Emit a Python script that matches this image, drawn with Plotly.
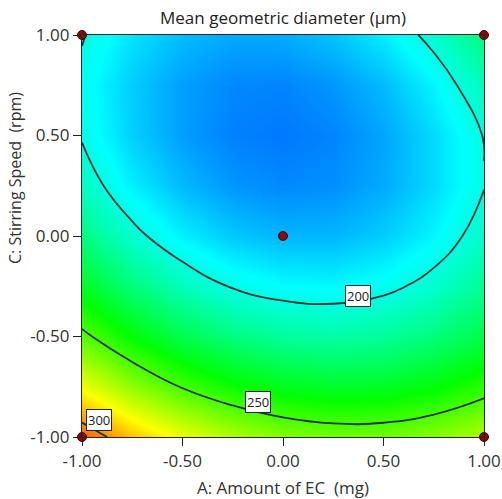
import plotly.graph_objects as go

# Factor levels (coded)
a_levels = [-1.0, -0.75, -0.5, -0.25, 0.0, 0.25, 0.5, 0.75, 1.0]
c_levels = [-1.0, -0.75, -0.5, -0.25, 0.0, 0.25, 0.5, 0.75, 1.0]

# Mean geometric diameter (µm) read from the surface, rows = C, columns = A
diam_c_m100 = [308.6, 291.3, 277.5, 267.2, 260.3, 256.9, 257.0, 260.6, 267.6]
diam_c_m075 = [278.5, 262.1, 249.2, 239.8, 233.8, 231.3, 232.3, 236.8, 244.7]
diam_c_m050 = [253.1, 237.6, 225.6, 217.1, 212.1, 210.5, 212.4, 217.8, 226.6]
diam_c_m025 = [232.5, 217.9, 206.8, 199.2, 195.1, 194.4, 197.2, 203.5, 213.2]
diam_c_000 = [216.6, 203.0, 192.8, 186.0, 182.8, 183.0, 186.7, 193.9, 204.6]
diam_c_p025 = [205.5, 192.7, 183.5, 177.6, 175.3, 176.4, 181.1, 189.1, 199.6]
diam_c_p050 = [199.1, 187.3, 178.9, 174.0, 172.6, 174.6, 180.1, 189.1, 200.4]
diam_c_p075 = [197.5, 186.6, 179.1, 175.1, 174.6, 177.5, 183.9, 193.8, 207.2]
diam_c_p100 = [200.7, 190.6, 184.0, 180.9, 181.3, 185.2, 192.5, 203.3, 217.5]

contour_levels = [200, 250, 300]

# Design points
design_a = [-1, 1, -1, 1, 0]
design_c = [-1, -1, 1, 1, 0]

tick_vals = [-1.0, -0.5, 0.0, 0.5, 1.0]
tick_text = ["-1.00", "-0.50", "0.00", "0.50", "1.00"]

z = [diam_c_m100, diam_c_m075, diam_c_m050, diam_c_m025, diam_c_000,
     diam_c_p025, diam_c_p050, diam_c_p075, diam_c_p100]

colorscale = [
    [0.0, "rgb(0,0,255)"],
    [0.25, "rgb(0,255,255)"],
    [0.5, "rgb(0,255,0)"],
    [0.75, "rgb(255,255,0)"],
    [1.0, "rgb(255,0,0)"],
]

FONT = "Open Sans, Noto Sans, DejaVu Sans, sans-serif"

fig = go.Figure()
fig.add_trace(go.Heatmap(
    x=a_levels, y=c_levels, z=z, zsmooth="best",
    colorscale=colorscale, zmin=152.3, zmax=323.7, showscale=False,
    hoverinfo="skip",
))
fig.add_trace(go.Contour(
    x=a_levels, y=c_levels, z=z,
    contours=dict(start=contour_levels[0], end=contour_levels[-1],
                  size=contour_levels[1] - contour_levels[0], coloring="none"),
    line=dict(color="#163434", width=1.8, smoothing=1.3),
    showscale=False, hoverinfo="skip",
))
fig.add_trace(go.Scatter(
    x=design_a, y=design_c, mode="markers", cliponaxis=False,
    marker=dict(color="#8b0a0a", size=9, line=dict(color="#3c0000", width=1)),
    hoverinfo="skip", showlegend=False,
))

# contour label boxes
label_pos = [(0.373, -0.30), (-0.124, -0.826), (-0.915, -0.915)]
for lvl, (lx, ly) in zip(contour_levels, label_pos):
    fig.add_annotation(
        x=lx, y=ly, text=str(lvl), showarrow=False,
        font=dict(family=FONT, size=13, color="#222"),
        bgcolor="white", bordercolor="#222", borderwidth=1, borderpad=1,
    )

# y axis title (sits above the axis centre in the original)
fig.add_annotation(
    xref="paper", yref="paper", x=-0.167, y=0.644, xanchor="center", yanchor="middle",
    text="C: Stirring Speed\u00a0\u00a0(rpm)", textangle=-90, showarrow=False,
    font=dict(family=FONT, size=16, color="#333"),
)

axis_common = dict(
    range=[-1, 1], tickvals=tick_vals, ticktext=tick_text,
    ticks="outside", ticklen=8, tickwidth=1.3, tickcolor="#222",
    showline=True, linecolor="#222", linewidth=1.3, mirror=True,
    showgrid=False, zeroline=False, automargin=False,
    tickfont=dict(family=FONT, size=17, color="#333"),
)

fig.update_layout(
    width=502, height=499,
    margin=dict(l=82, r=18, t=35, b=62, autoexpand=False),
    paper_bgcolor="white", plot_bgcolor="white",
    showlegend=False,
    title=dict(text="Mean geometric diameter (µm)", x=0.5, xanchor="center",
               xref="paper", y=1 - 18 / 499, yref="container", yanchor="middle",
               font=dict(family=FONT, size=17, color="#222")),
    xaxis=dict(axis_common, title=dict(text="A: Amount of EC\u00a0\u00a0(mg)", standoff=12,
               font=dict(family=FONT, size=17, color="#333"))),
    yaxis=dict(axis_common),
)

fig.write_html("out.html")
